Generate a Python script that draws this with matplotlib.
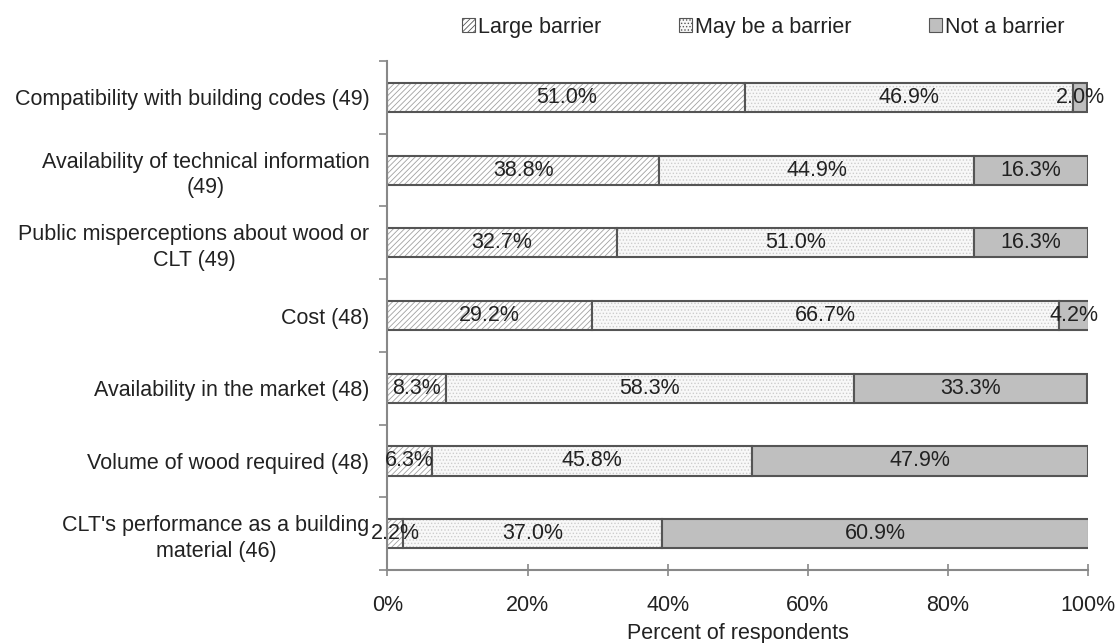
import matplotlib
matplotlib.use("Agg")
import matplotlib.pyplot as plt
from matplotlib.patches import Patch
import numpy as np

plt.rcParams['font.family'] = ['Liberation Sans', 'DejaVu Sans']

categories = [
    "Compatibility with building codes (49)",
    "Availability of technical information\n(49)",
    "Public misperceptions about wood or\nCLT (49)",
    "Cost (48)",
    "Availability in the market (48)",
    "Volume of wood required (48)",
    "CLT's performance as a building\nmaterial (46)",
]
large = [51.0, 38.8, 32.7, 29.2, 8.3, 6.3, 2.2]
maybe = [46.9, 44.9, 51.0, 66.7, 58.3, 45.8, 37.0]
notb = [2.0, 16.3, 16.3, 4.2, 33.3, 47.9, 60.9]
series_names = ["Large barrier", "May be a barrier", "Not a barrier"]
xticks = [0, 20, 40, 60, 80, 100]

FS = 15.5
TXT = '#222222'

fig = plt.figure(figsize=(11.18, 6.43), dpi=100)
ax = fig.add_axes([0.3466, 0.1135, 0.9732 - 0.3466, 0.905 - 0.1135])

n = len(categories)
y = np.arange(n)[::-1]
h = 0.4
edge = '#555555'
plt.rcParams['hatch.linewidth'] = 0.6

styles = [
    dict(facecolor='white', hatch='//////', hcolor='#a0a0a0'),
    dict(facecolor='#f8f8f8', hatch='.....', hcolor='#cccccc'),
    dict(facecolor='#bfbfbf', hatch=None, hcolor='#bfbfbf'),
]

left = np.zeros(n)
for vals, st in zip([large, maybe, notb], styles):
    vals = np.array(vals)
    plt.rcParams['hatch.color'] = st['hcolor']
    ax.barh(y, vals, left=left, height=h, color=st['facecolor'],
            hatch=st['hatch'], edgecolor=st['hcolor'], linewidth=0)
    ax.barh(y, vals, left=left, height=h, fill=False, edgecolor=edge, linewidth=1.5)
    for yi, l, v in zip(y, left, vals):
        ax.text(l + v / 2, yi, f"{v:.1f}%", ha='center', va='center',
                fontsize=FS, color=TXT)
    left = left + vals

ax.set_xlim(0, 100)
ax.set_ylim(-0.5, n - 0.5)
ax.set_yticks(y)
ax.set_yticklabels(categories, fontsize=FS, color=TXT, multialignment='center',
                   linespacing=1.3)
ax.set_yticks(np.arange(-0.5, n, 1.0), minor=True)
ax.tick_params(axis='y', which='major', length=0, pad=13)
ax.tick_params(axis='y', which='minor', length=6, width=1.2, color='#888888', direction='out')
ax.set_xticks(xticks)
ax.set_xticklabels([f"{t}%" for t in xticks], fontsize=FS, color=TXT)
ax.tick_params(axis='x', length=8, width=1.2, color='#888888', direction='inout', pad=14)
ax.set_xlabel("Percent of respondents", fontsize=FS, color=TXT, labelpad=5)

for s in ['top', 'right']:
    ax.spines[s].set_visible(False)
for s in ['left', 'bottom']:
    ax.spines[s].set_color('#888888')
    ax.spines[s].set_linewidth(1.5)

handles = []
for name, st in zip(series_names, styles):
    plt.rcParams['hatch.color'] = st['hcolor']
    handles.append(Patch(facecolor=st['facecolor'], hatch=st['hatch'], edgecolor=edge,
                         linewidth=0.8, label=name))
fig.legend(handles=handles, loc='center left', bbox_to_anchor=(0.3957, 0.958), ncol=3,
           frameon=False, fontsize=FS, handlelength=0.6, handleheight=0.6,
           handletextpad=0.15, columnspacing=3.6, labelcolor=TXT)

fig.savefig("out.png", dpi=100)
